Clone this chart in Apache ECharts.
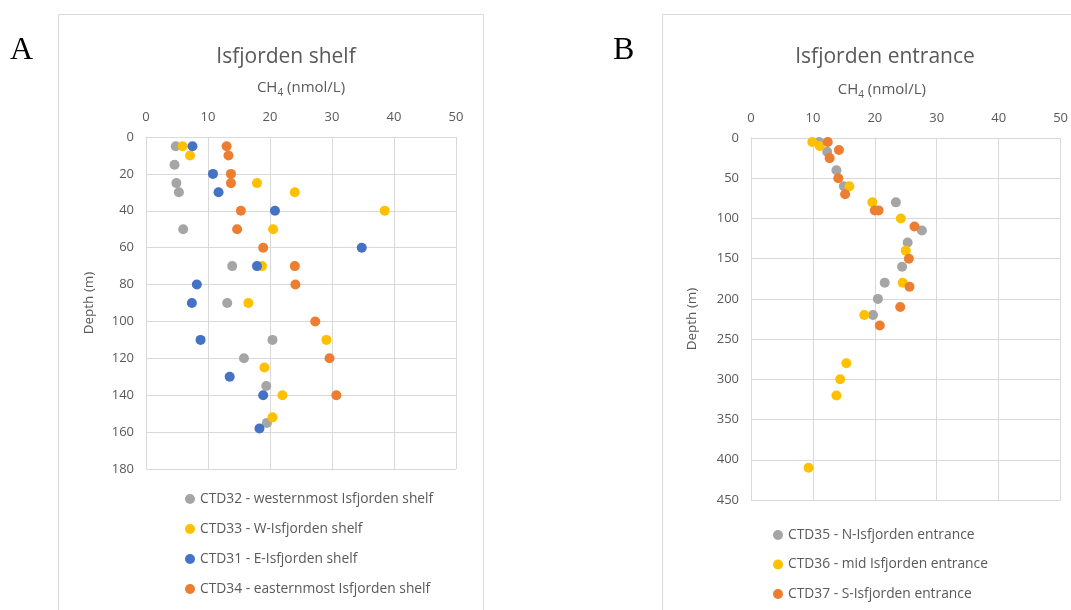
<!DOCTYPE html>
<html>
<head>
<meta charset="utf-8">
<script src="https://cdn.jsdelivr.net/npm/echarts@6/dist/echarts.min.js"></script>
<style>
html, body { margin: 0; padding: 0; background: #ffffff; }
#chart { width: 1071px; height: 610px; }
</style>
</head>
<body>
<div id="chart"></div>
<script>
// ---- Isfjorden shelf (panel A): CH4 (nmol/L) vs depth (m) ----
const ctd32Ch4   = [4.8, 4.6, 4.9, 5.3, 6.0, 13.9, 13.1, 20.4, 15.8, 19.4, 19.5];
const ctd32Depth = [5, 15, 25, 30, 50, 70, 90, 110, 120, 135, 155];

const ctd33Ch4   = [5.9, 7.1, 17.9, 24.0, 38.5, 20.5, 18.7, 16.5, 29.1, 19.1, 22.0, 20.4];
const ctd33Depth = [5, 10, 25, 30, 40, 50, 70, 90, 110, 125, 140, 152];

const ctd31Ch4   = [7.5, 10.8, 11.7, 20.8, 34.8, 17.9, 8.2, 7.4, 8.8, 13.5, 18.9, 18.3];
const ctd31Depth = [5, 20, 30, 40, 60, 70, 80, 90, 110, 130, 140, 158];

const ctd34Ch4   = [13.0, 13.3, 13.7, 13.7, 15.3, 14.7, 18.9, 24.0, 24.1, 27.3, 29.6, 30.7];
const ctd34Depth = [5, 10, 20, 25, 40, 50, 60, 70, 80, 100, 120, 140];

// ---- Isfjorden entrance (panel B) ----
const ctd35Ch4   = [11.0, 12.3, 13.8, 15.0, 23.4, 27.6, 25.3, 24.4, 21.6, 20.5, 19.7];
const ctd35Depth = [5, 17, 40, 60, 80, 115, 130, 160, 180, 200, 220];

const ctd36Ch4   = [9.9, 11.1, 15.9, 19.6, 24.2, 25.0, 24.5, 18.3, 15.4, 14.4, 13.8, 9.3];
const ctd36Depth = [5, 10, 60, 80, 100, 140, 180, 220, 280, 300, 320, 410];

const ctd37Ch4   = [12.4, 14.2, 12.7, 14.1, 15.2, 20.0, 20.6, 26.4, 25.5, 25.6, 24.1, 20.8];
const ctd37Depth = [5, 15, 25, 50, 70, 90, 90, 110, 150, 185, 210, 233];

const xTicks = [0, 10, 20, 30, 40, 50];
const depthMaxA = 180, depthStepA = 20;
const depthMaxB = 450, depthStepB = 50;

const namesA = ['CTD32 - westernmost Isfjorden shelf', 'CTD33 - W-Isfjorden shelf',
                'CTD31 - E-Isfjorden shelf', 'CTD34 - easternmost Isfjorden shelf'];
const namesB = ['CTD35 - N-Isfjorden entrance', 'CTD36 - mid Isfjorden entrance',
                'CTD37 - S-Isfjorden entrance'];

const GRAY = '#A5A5A5', YELLOW = '#FFC000', BLUE = '#4472C4', ORANGE = '#ED7D31';
const TEXT = '#595959', GRID = '#D9D9D9';
const FONT = 'Open Sans';

function pairs(xs, ys) { return xs.map((v, i) => [v, ys[i]]); }

function xAxisFor(gridIndex, gap, namePadRight) {
  return {
    gridIndex, type: 'value', position: 'top',
    min: xTicks[0], max: xTicks[xTicks.length - 1], interval: xTicks[1] - xTicks[0],
    name: '{a|CH}{s|4}{a| (nmol/L)}', nameLocation: 'middle', nameGap: gap,
    nameTextStyle: {
      padding: [0, namePadRight, 0, 0],
      rich: {
        a: { fontFamily: FONT, fontSize: 15, color: TEXT, lineHeight: 20, verticalAlign: 'middle' },
        s: { fontFamily: FONT, fontSize: 10, color: TEXT, lineHeight: 10, verticalAlign: 'bottom' }
      }
    },
    axisLine: { show: true, lineStyle: { color: GRID } },
    axisTick: { show: false },
    axisLabel: { color: TEXT, fontFamily: FONT, fontSize: 13, margin: 13 },
    splitLine: { show: true, lineStyle: { color: GRID } }
  };
}

function yAxisFor(gridIndex, max, step, gap) {
  return {
    gridIndex, type: 'value', inverse: true, min: 0, max, interval: step,
    name: 'Depth (m)', nameLocation: 'middle', nameGap: gap,
    nameTextStyle: { color: TEXT, fontFamily: FONT, fontSize: 13.5 },
    axisLine: { show: true, lineStyle: { color: GRID } },
    axisTick: { show: false },
    axisLabel: { color: TEXT, fontFamily: FONT, fontSize: 13, margin: 12 },
    splitLine: { show: true, lineStyle: { color: GRID } }
  };
}

function scatter(name, idx, data, color) {
  return {
    name, type: 'scatter', xAxisIndex: idx, yAxisIndex: idx, data,
    symbol: 'circle', symbolSize: 10,
    itemStyle: { color, opacity: 1 },
    emphasis: { disabled: true }
  };
}

const chart = echarts.init(document.getElementById('chart'), null, { renderer: 'canvas' });

chart.setOption({
  animation: false,
  backgroundColor: '#ffffff',
  title: [
    { text: 'Isfjorden shelf', left: 281, top: 42, textAlign: 'center',
      textStyle: { color: TEXT, fontFamily: FONT, fontSize: 21, fontWeight: 'normal' } },
    { text: 'Isfjorden entrance', left: 880, top: 42, textAlign: 'center',
      textStyle: { color: TEXT, fontFamily: FONT, fontSize: 21, fontWeight: 'normal' } }
  ],
  graphic: [
    { type: 'rect', shape: { x: 58.5, y: 14.5, width: 425, height: 620 },
      style: { fill: 'none', stroke: GRID, lineWidth: 1 }, z: -1 },
    { type: 'rect', shape: { x: 662.5, y: 14.5, width: 420, height: 620 },
      style: { fill: 'none', stroke: GRID, lineWidth: 1 }, z: -1 },
    { type: 'text', left: 10, top: 35,
      style: { text: 'A', fontFamily: 'Liberation Serif', fontSize: 32, fill: '#000000' } },
    { type: 'text', left: 613, top: 35,
      style: { text: 'B', fontFamily: 'Liberation Serif', fontSize: 32, fill: '#000000' } }
  ],
  grid: [
    { left: 146, top: 137, width: 310, height: 332, show: false },
    { left: 751, top: 138, width: 310, height: 362, show: false }
  ],
  xAxis: [xAxisFor(0, 39, 0), xAxisFor(1, 38, 48)],
  yAxis: [yAxisFor(0, depthMaxA, depthStepA, 50), yAxisFor(1, depthMaxB, depthStepB, 52)],
  legend: [
    { data: namesA, orient: 'vertical', left: 180, top: 487,
      icon: 'circle', itemWidth: 10, itemHeight: 10, itemGap: 16,
      selectedMode: false,
      textStyle: { color: TEXT, fontFamily: FONT, fontSize: 13.8, lineHeight: 14 } },
    { data: namesB, orient: 'vertical', left: 768, top: 523,
      icon: 'circle', itemWidth: 10, itemHeight: 10, itemGap: 15.5,
      selectedMode: false,
      textStyle: { color: TEXT, fontFamily: FONT, fontSize: 13.8, lineHeight: 14 } }
  ],
  series: [
    scatter(namesA[0], 0, pairs(ctd32Ch4, ctd32Depth), GRAY),
    scatter(namesA[1], 0, pairs(ctd33Ch4, ctd33Depth), YELLOW),
    scatter(namesA[2], 0, pairs(ctd31Ch4, ctd31Depth), BLUE),
    scatter(namesA[3], 0, pairs(ctd34Ch4, ctd34Depth), ORANGE),
    scatter(namesB[0], 1, pairs(ctd35Ch4, ctd35Depth), GRAY),
    scatter(namesB[1], 1, pairs(ctd36Ch4, ctd36Depth), YELLOW),
    scatter(namesB[2], 1, pairs(ctd37Ch4, ctd37Depth), ORANGE)
  ]
});
</script>
</body>
</html>
